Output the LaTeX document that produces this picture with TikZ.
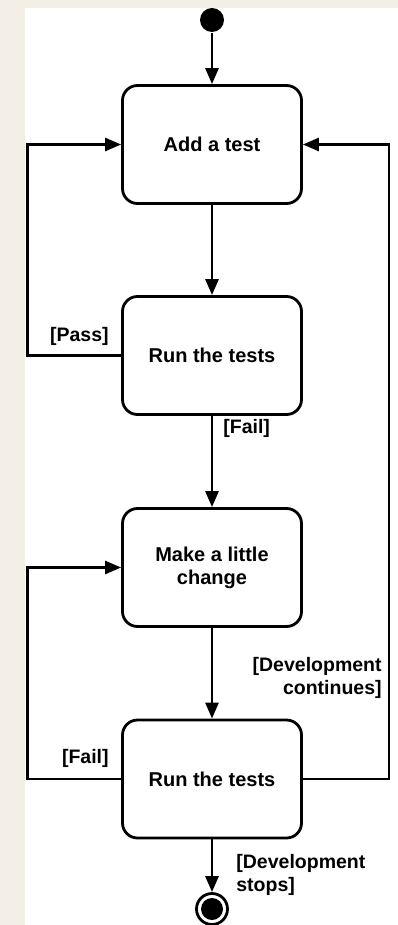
\documentclass[tikz,border=0pt]{standalone}
\usepackage{fontspec}
\setmainfont{Liberation Sans}
\usetikzlibrary{arrows.meta}
\tikzset{>={Triangle[length=16pt,width=13pt]}}
\definecolor{paper}{RGB}{243,239,231}

\begin{document}
\begin{tikzpicture}[x=1pt,y=-1pt,line width=2.8pt,
  activity/.style={draw,rounded corners=15pt,minimum width=179pt,minimum height=118pt,align=center,font=\fontsize{20}{23}\selectfont\bfseries},
  guard/.style={inner sep=0pt,font=\fontsize{19.5}{23}\selectfont\bfseries}]
  \useasboundingbox (0,0) rectangle (398,925);
  \fill[paper] (0,0) rectangle (398,925);
  \fill[white] (25,8) rectangle (398,925);
  \node[circle,fill,inner sep=0pt,minimum size=24pt] (start) at (212,20) {};
  \node[activity] (add) at (212,144.5) {Add a test};
  \node[activity] (run) at (212,355.5) {Run the tests};
  \node[activity] (change) at (212,567.5) {Make a little\\change};
  \node[activity] (run2) at (212,779) {Run the tests};
  \node[circle,draw,inner sep=0pt,minimum size=31pt] (stop) at (212,909) {};
  \fill (stop) circle (11pt);
  \draw[->] (start) -- (add);
  \draw[->] (add) -- (run);
  \draw[->] (run) -- (change);
  \draw[->] (change) -- (run2);
  \draw[->] (run2) -- (stop);
  \draw[->] (run.west) -- ++(-94,0) |- (add.west);
  \draw[->] (run2.west) -- ++(-94,0) |- (change.west);
  \draw[->] (run2.east) -- ++(86,0) |- (add.east);
  % guards
  \node[guard,anchor=east] (pass) at (110,336) {[Pass]};
  \node[guard,anchor=west] (fail) at (222,428) {[Fail]};
  \node[guard,anchor=east,align=right] (devcont) at (383,678) {[Development\\continues]};
  \node[guard,anchor=east] (fail2) at (110,758) {[Fail]};
  \node[guard,anchor=west,align=left] (devstop) at (235,875) {[Development\\stops]};
\end{tikzpicture}
\end{document}
